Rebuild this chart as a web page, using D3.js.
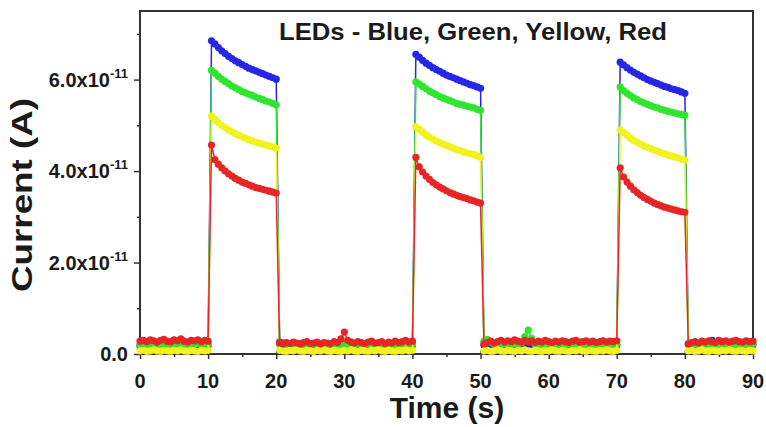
<html lang="en">
<head>
  <meta charset="UTF-8">
  <title>LED photocurrent</title>
  <style>
    body {
      margin: 0;
      background-color: #fff;
    }
    text {
      font-family: 'Liberation Sans', Arial, sans-serif;
      font-weight: bold;
      fill: #1a1a1a;
    }
    .frame {
      fill: none;
      stroke: #333;
      stroke-width: 2;
    }
    .axis path, .axis line {
      stroke: #333;
      stroke-width: 1.5;
    }
    .tick-label { font-size: 20px; }
    .ytick-label { font-size: 20px; }
    .axis-title { font-size: 30px; }
    .chart-title { font-size: 23px; }
  </style>
</head>
<body>
  <script src="https://d3js.org/d3.v7.min.js"></script>
  <script>
    // values are in units of 1e-11 A, sampled every 0.5 s from 0 to 90 s
    var unit = 1e-11;
    var time = d3.range(0, 90.001, 0.5);

    var xTicks = [0, 10, 20, 30, 40, 50, 60, 70, 80, 90];
    var yTicks = [0, 2, 4, 6];
    var yTickLabels = ['0.0', '2.0x10', '4.0x10', '6.0x10'];

    // off: 0-10 s (21), on: 10.5-20 (20), off: 20.5-40 (40), on: 40.5-50 (20),
    // off: 50.5-70 (40), on: 70.5-80 (20), off: 80.5-90 (20)
    var blue = [].concat(
      [0.18,0.20,0.17,0.19,0.21,0.18,0.17,0.20,0.19,0.18,0.21,0.17,0.19,0.20,0.18,0.17,0.19,0.21,0.18,0.20,0.19],
      [6.85,6.78,6.70,6.63,6.57,6.51,6.46,6.41,6.37,6.33,6.29,6.25,6.22,6.19,6.16,6.13,6.10,6.07,6.04,6.01],
      [0.26,0.24,0.22,0.20,0.19,0.21,0.18,0.20,0.19,0.17,0.20,0.18,0.21,0.19,0.18,0.20,0.17,0.19,0.21,0.18,0.20,0.19,0.17,0.20,0.18,0.21,0.19,0.18,0.20,0.17,0.19,0.21,0.18,0.20,0.19,0.17,0.20,0.18,0.21,0.19],
      [6.55,6.49,6.42,6.36,6.31,6.26,6.22,6.18,6.14,6.10,6.07,6.04,6.01,5.98,5.95,5.92,5.89,5.87,5.84,5.81],
      [0.19,0.17,0.20,0.18,0.21,0.19,0.18,0.20,0.17,0.19,0.21,0.18,0.20,0.19,0.17,0.20,0.18,0.21,0.19,0.18,0.20,0.17,0.19,0.21,0.18,0.20,0.19,0.17,0.20,0.18,0.21,0.19,0.18,0.20,0.17,0.19,0.21,0.18,0.20,0.19],
      [6.38,6.32,6.26,6.21,6.16,6.12,6.08,6.04,6.00,5.97,5.94,5.91,5.88,5.85,5.83,5.80,5.78,5.76,5.73,5.70],
      [0.22,0.20,0.18,0.21,0.19,0.24,0.27,0.30,0.22,0.19,0.18,0.20,0.21,0.19,0.17,0.20,0.18,0.21,0.19,0.20]
    );

    var green = [].concat(
      [0.20,0.22,0.19,0.21,0.23,0.20,0.19,0.22,0.21,0.20,0.23,0.19,0.21,0.22,0.20,0.19,0.21,0.23,0.20,0.22,0.21],
      [6.20,6.14,6.07,6.01,5.96,5.91,5.86,5.82,5.78,5.74,5.71,5.68,5.65,5.62,5.59,5.56,5.53,5.51,5.48,5.45],
      [0.21,0.20,0.22,0.19,0.21,0.20,0.22,0.21,0.19,0.20,0.22,0.21,0.20,0.19,0.21,0.22,0.20,0.21,0.19,0.22,0.20,0.21,0.19,0.22,0.20,0.21,0.22,0.19,0.20,0.21,0.22,0.20,0.19,0.21,0.20,0.22,0.21,0.19,0.20,0.21],
      [5.95,5.90,5.85,5.80,5.75,5.71,5.67,5.63,5.60,5.57,5.54,5.51,5.48,5.46,5.44,5.42,5.40,5.38,5.35,5.33],
      [0.28,0.32,0.25,0.22,0.21,0.20,0.22,0.21,0.20,0.22,0.21,0.24,0.38,0.52,0.34,0.22,0.20,0.21,0.22,0.20,0.21,0.19,0.22,0.20,0.21,0.22,0.19,0.20,0.21,0.22,0.20,0.19,0.21,0.20,0.22,0.21,0.19,0.20,0.21,0.22],
      [5.84,5.76,5.70,5.65,5.60,5.56,5.52,5.49,5.46,5.43,5.40,5.38,5.35,5.33,5.31,5.29,5.27,5.25,5.24,5.22],
      [0.21,0.20,0.22,0.19,0.21,0.20,0.22,0.21,0.19,0.20,0.22,0.21,0.20,0.19,0.21,0.22,0.20,0.21,0.19,0.22]
    );

    var yellow = [].concat(
      [0.07,0.08,0.06,0.07,0.09,0.07,0.06,0.08,0.07,0.06,0.08,0.07,0.09,0.07,0.06,0.08,0.07,0.06,0.08,0.07,0.08],
      [5.20,5.13,5.06,5.00,4.95,4.90,4.86,4.82,4.78,4.75,4.72,4.69,4.66,4.63,4.61,4.59,4.57,4.55,4.53,4.50],
      [0.08,0.07,0.06,0.08,0.07,0.09,0.07,0.06,0.08,0.07,0.06,0.08,0.07,0.09,0.07,0.06,0.08,0.07,0.06,0.08,0.07,0.09,0.07,0.06,0.08,0.07,0.06,0.08,0.07,0.09,0.07,0.06,0.08,0.07,0.06,0.08,0.07,0.09,0.07,0.08],
      [4.97,4.91,4.85,4.79,4.74,4.70,4.66,4.62,4.59,4.56,4.53,4.50,4.47,4.45,4.42,4.40,4.38,4.36,4.33,4.30],
      [0.07,0.08,0.06,0.07,0.09,0.07,0.06,0.08,0.07,0.06,0.08,0.07,0.09,0.07,0.06,0.08,0.07,0.06,0.08,0.07,0.09,0.07,0.06,0.08,0.07,0.06,0.08,0.07,0.09,0.07,0.06,0.08,0.07,0.06,0.08,0.07,0.09,0.07,0.06,0.08],
      [4.90,4.84,4.78,4.72,4.67,4.63,4.59,4.55,4.52,4.49,4.46,4.43,4.40,4.38,4.35,4.33,4.31,4.29,4.26,4.24],
      [0.07,0.08,0.06,0.07,0.09,0.07,0.06,0.08,0.07,0.06,0.08,0.07,0.09,0.07,0.06,0.08,0.07,0.06,0.08,0.07]
    );

    var red = [].concat(
      [0.28,0.30,0.27,0.31,0.29,0.26,0.30,0.32,0.28,0.27,0.31,0.29,0.33,0.28,0.26,0.30,0.29,0.31,0.27,0.30,0.28],
      [4.57,4.25,4.15,4.07,4.00,3.94,3.89,3.84,3.80,3.76,3.73,3.70,3.67,3.64,3.62,3.60,3.58,3.56,3.54,3.52],
      [0.24,0.22,0.25,0.23,0.26,0.24,0.22,0.25,0.27,0.23,0.24,0.26,0.22,0.25,0.24,0.23,0.27,0.25,0.33,0.48,0.30,0.26,0.24,0.27,0.25,0.23,0.26,0.28,0.24,0.25,0.27,0.23,0.26,0.24,0.28,0.25,0.27,0.30,0.26,0.28],
      [4.30,4.09,3.98,3.89,3.82,3.75,3.70,3.65,3.61,3.57,3.53,3.50,3.47,3.44,3.42,3.40,3.37,3.35,3.32,3.30],
      [0.22,0.25,0.28,0.24,0.27,0.30,0.26,0.29,0.27,0.31,0.28,0.26,0.30,0.27,0.29,0.25,0.28,0.26,0.30,0.27,0.25,0.28,0.26,0.29,0.27,0.25,0.28,0.30,0.26,0.27,0.29,0.26,0.28,0.25,0.27,0.29,0.26,0.28,0.27,0.29],
      [4.07,3.87,3.76,3.67,3.59,3.53,3.47,3.42,3.38,3.34,3.30,3.27,3.24,3.21,3.19,3.17,3.15,3.13,3.11,3.10],
      [0.22,0.25,0.27,0.24,0.28,0.26,0.29,0.27,0.25,0.30,0.27,0.29,0.26,0.28,0.30,0.27,0.26,0.29,0.27,0.28]
    );

    var seriesNames = ['Blue', 'Green', 'Yellow', 'Red'];
    var seriesValues = [blue, green, yellow, red];
    var seriesColors = ['#2626e6', '#2ee62e', '#f2f21e', '#e62626'];

    var width = 766, height = 427;
    var margin = {top: 11, right: 13, bottom: 73, left: 140};

    var svg = d3.select('body').append('svg')
      .attr('width', width)
      .attr('height', height);

    var x = d3.scaleLinear().domain([0, 90]).range([margin.left, width - margin.right]);
    var y = d3.scaleLinear().domain([0, 7.5 * unit]).range([height - margin.bottom, margin.top]);

    // frame
    svg.append('rect')
      .attr('class', 'frame')
      .attr('x', margin.left)
      .attr('y', margin.top)
      .attr('width', width - margin.left - margin.right)
      .attr('height', height - margin.top - margin.bottom);

    // x axis
    var xAxis = svg.append('g')
      .attr('class', 'axis')
      .attr('transform', 'translate(0,' + y(0) + ')')
      .call(d3.axisBottom(x).tickValues(xTicks).tickSize(5).tickFormat(''));
    xAxis.select('.domain').remove();
    xAxis.selectAll('.tick line').attr('y1', -4);
    svg.append('g')
      .attr('class', 'axis')
      .attr('transform', 'translate(0,' + y(0) + ')')
      .call(d3.axisBottom(x).tickValues(d3.range(5, 90, 10)).tickSize(3).tickFormat(''))
      .call(function(g) { g.select('.domain').remove(); });

    svg.selectAll('.xtick-label')
      .data(xTicks)
      .enter().append('text')
      .attr('class', 'tick-label')
      .attr('x', function(d) { return x(d); })
      .attr('y', y(0) + 34)
      .attr('text-anchor', 'middle')
      .text(function(d) { return d; });

    // y axis
    var yAxis = svg.append('g')
      .attr('class', 'axis')
      .attr('transform', 'translate(' + margin.left + ',0)')
      .call(d3.axisLeft(y).tickValues(yTicks.map(function(d) { return d * unit; })).tickSize(6).tickFormat(''));
    yAxis.select('.domain').remove();
    svg.append('g')
      .attr('class', 'axis')
      .attr('transform', 'translate(' + margin.left + ',0)')
      .call(d3.axisLeft(y).tickValues([1, 3, 5, 7].map(function(d) { return d * unit; })).tickSize(3).tickFormat(''))
      .call(function(g) { g.select('.domain').remove(); });

    var ylab = svg.selectAll('.ytick-label')
      .data(yTicks)
      .enter().append('text')
      .attr('class', 'ytick-label')
      .attr('x', margin.left - 12)
      .attr('y', function(d) { return y(d * unit) + 7; })
      .attr('text-anchor', 'end');
    ylab.append('tspan')
      .text(function(d, i) { return yTickLabels[i]; });
    ylab.filter(function(d) { return d !== 0; })
      .append('tspan')
      .attr('dy', -9)
      .style('font-size', '13px')
      .text('-11');

    // series: thin connecting line + dense circle markers
    var line = d3.line()
      .x(function(d, i) { return x(time[i]); })
      .y(function(d) { return y(d * unit); });

    seriesValues.forEach(function(vals, k) {
      var g = svg.append('g').attr('class', 'series series-' + seriesNames[k]);
      g.append('path')
        .datum(vals)
        .attr('d', line)
        .attr('fill', 'none')
        .attr('stroke', seriesColors[k])
        .attr('stroke-width', 1.5);
      g.selectAll('circle')
        .data(vals)
        .enter().append('circle')
        .attr('cx', function(d, i) { return x(time[i]); })
        .attr('cy', function(d) { return y(d * unit); })
        .attr('r', 3.6)
        .attr('fill', seriesColors[k]);
    });

    // titles
    svg.append('text')
      .attr('class', 'chart-title')
      .attr('x', 473)
      .attr('y', 40)
      .attr('text-anchor', 'middle')
      .attr('textLength', 388)
      .attr('lengthAdjust', 'spacingAndGlyphs')
      .text('LEDs - Blue, Green, Yellow, Red');

    svg.append('text')
      .attr('class', 'axis-title')
      .attr('x', 447)
      .attr('y', 418)
      .attr('text-anchor', 'middle')
      .text('Time (s)');

    svg.append('text')
      .attr('class', 'axis-title')
      .attr('transform', 'translate(32,195) rotate(-90)')
      .attr('text-anchor', 'middle')
      .attr('textLength', 194)
      .attr('lengthAdjust', 'spacingAndGlyphs')
      .text('Current (A)');
  </script>
</body>
</html>
